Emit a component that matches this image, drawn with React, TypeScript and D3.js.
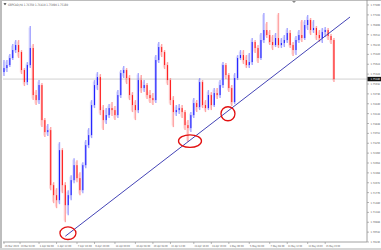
import React from "react";
import * as d3 from "d3";

const W = 381;
const H = 250;

const symbolTitle = "GBPCAD,H4";
const firstOpen = 1.7539;
const closes = [
  1.7551, 1.756, 1.7581, 1.7605, 1.762, 1.7599, 1.7545, 1.7509, 1.756, 1.7611,
  1.747, 1.7455, 1.75, 1.7395, 1.7359, 1.7365, 1.72, 1.717, 1.7155, 1.7305,
  1.72, 1.714, 1.717, 1.7215, 1.726, 1.7221, 1.7185, 1.726, 1.732, 1.735,
  1.744, 1.75, 1.7524, 1.7425, 1.7395, 1.741, 1.7431, 1.7425, 1.741, 1.747,
  1.7536, 1.7545, 1.7521, 1.747, 1.744, 1.7425, 1.7515, 1.7491, 1.75, 1.747,
  1.7461, 1.7455, 1.7575, 1.7614, 1.7599, 1.756, 1.7515, 1.7455, 1.7419, 1.7425,
  1.7431, 1.7419, 1.738, 1.7371, 1.741, 1.7446, 1.7434, 1.7509, 1.744, 1.7431,
  1.747, 1.744, 1.7476, 1.747, 1.75, 1.756, 1.753, 1.7491, 1.7449, 1.7521,
  1.7581, 1.759, 1.7575, 1.756, 1.7569, 1.7629, 1.7611, 1.7581, 1.7635, 1.7665,
  1.765, 1.7629, 1.762, 1.7641, 1.762, 1.7626, 1.7635, 1.7656, 1.762, 1.7605,
  1.7635, 1.765, 1.7641, 1.768, 1.7695, 1.7665, 1.7671, 1.765, 1.7641, 1.7659,
  1.7665, 1.7647, 1.7635, 1.7518,
];
const highs = [
  1.7575, 1.7575, 1.7593, 1.7623, 1.7635, 1.7635, 1.7605, 1.7551, 1.7569, 1.7677,
  1.7623, 1.7485, 1.7515, 1.7506, 1.7401, 1.7383, 1.7374, 1.7209, 1.7191, 1.7329,
  1.7311, 1.7209, 1.7185, 1.723, 1.7281, 1.7275, 1.7239, 1.7269, 1.7335, 1.7371,
  1.7455, 1.7515, 1.7539, 1.7533, 1.744, 1.7431, 1.7443, 1.7449, 1.7437, 1.7485,
  1.7545, 1.7557, 1.7551, 1.753, 1.7479, 1.7455, 1.7536, 1.753, 1.7515, 1.7506,
  1.7485, 1.7476, 1.759, 1.7629, 1.7623, 1.7605, 1.7569, 1.7521, 1.7467, 1.744,
  1.7443, 1.744, 1.7425, 1.7395, 1.7419, 1.7461, 1.7455, 1.7521, 1.7515, 1.7455,
  1.7485, 1.7479, 1.7491, 1.7491, 1.7515, 1.7569, 1.7566, 1.7536, 1.75, 1.7536,
  1.759, 1.7605, 1.7605, 1.759, 1.7596, 1.7641, 1.7635, 1.762, 1.7656, 1.7716,
  1.7689, 1.7665, 1.765, 1.7656, 1.7716, 1.7641, 1.765, 1.7671, 1.7665, 1.7629,
  1.7647, 1.7665, 1.7695, 1.7695, 1.771, 1.7701, 1.7695, 1.7677, 1.7665, 1.7671,
  1.7674, 1.7671, 1.7653, 1.7641,
];
const lows = [
  1.7527, 1.7539, 1.7554, 1.7575, 1.7596, 1.7581, 1.7533, 1.7497, 1.75, 1.7551,
  1.7455, 1.744, 1.7443, 1.7374, 1.7344, 1.7347, 1.7185, 1.7146, 1.7131, 1.7143,
  1.7176, 1.7089, 1.711, 1.7155, 1.7206, 1.7209, 1.717, 1.7176, 1.7251, 1.7311,
  1.7341, 1.7431, 1.7485, 1.741, 1.7365, 1.7383, 1.7401, 1.7407, 1.7395, 1.7401,
  1.7461, 1.7521, 1.7503, 1.7455, 1.7419, 1.7395, 1.7416, 1.7476, 1.7479, 1.7458,
  1.7446, 1.744, 1.7446, 1.7566, 1.7584, 1.7548, 1.75, 1.744, 1.7374, 1.7407,
  1.7413, 1.7401, 1.7365, 1.7329, 1.7359, 1.7401, 1.7419, 1.7425, 1.7431, 1.7419,
  1.7425, 1.7425, 1.7434, 1.7458, 1.7461, 1.7491, 1.7518, 1.7479, 1.7437, 1.7443,
  1.7515, 1.7575, 1.7563, 1.7551, 1.7551, 1.756, 1.7596, 1.7566, 1.7575, 1.7626,
  1.7641, 1.762, 1.7605, 1.7614, 1.7611, 1.7611, 1.7614, 1.7626, 1.7611, 1.7587,
  1.759, 1.7626, 1.7629, 1.7635, 1.7665, 1.765, 1.7656, 1.7635, 1.7629, 1.7626,
  1.7644, 1.7635, 1.7623, 1.7509,
];

const priceTicks = [
  1.774, 1.77104, 1.76808, 1.76512, 1.76216, 1.7592, 1.75624, 1.75328, 1.75032,
  1.74736, 1.7444, 1.74144, 1.73848, 1.73552, 1.73256, 1.7296, 1.72664, 1.72368,
  1.72072, 1.71776, 1.7148, 1.71184, 1.70888, 1.70592, 1.70296,
];

const timeLabels = [
  "26 Mar 2020", "30 Mar 04:00", "1 Apr 08:00", "3 Apr 12:00", "7 Apr 16:00",
  "9 Apr 20:00", "14 Apr 00:00", "16 Apr 04:00", "20 Apr 08:00", "22 Apr 12:00",
  "24 Apr 16:00", "28 Apr 20:00", "1 May 00:00", "5 May 04:00", "7 May 08:00",
  "11 May 12:00", "13 May 16:00", "15 May 20:00",
];
const timeLabelIdx = [0, 5.5, 12, 18, 25, 31, 38, 45, 51, 57, 65, 71, 77, 84, 91, 97, 104, 110];

const trendIdx = [21, 118.5];
const trendPrice = [1.7047, 1.7704];

const markerIdx = [21.9, 63.7, 76.7];
const markerPrice = [1.7056, 1.7332, 1.7414];

export default function App() {
  const plotL = 3;
  const plotR = 367;
  const plotT = 1;
  const plotB = 242;

  const x = d3.scaleLinear().domain([0, 125]).range([4, 369]);
  const y = d3
    .scaleLinear()
    .domain([priceTicks[priceTicks.length - 1], priceTicks[0]])
    .range([242, 5]);

  const bars = closes.map((c, i) => ({
    o: i === 0 ? firstOpen : closes[i - 1],
    c,
    h: highs[i],
    l: lows[i],
  }));
  const last = bars[bars.length - 1];
  const fmt = d3.format(".5f");

  const markerR = [
    [8, 6.3],
    [11.5, 6.3],
    [7, 7],
  ];

  const trendLine = d3
    .line<number>()
    .x((_, k) => x(trendIdx[k]))
    .y((p) => y(p));

  const textColor = "#5a5a5a";
  const fontFamily = "'DejaVu Sans', sans-serif";

  return (
    <svg
      width={W}
      height={H}
      style={{ position: "fixed", left: 0, top: 0, background: "#fff" }}
      fontFamily={fontFamily}
    >
      <rect x={0} y={0} width={W} height={H} fill="#fff" />
      <rect x={0} y={0} width={2} height={H} fill="#bdbdbd" />
      <rect x={0} y={0} width={W} height={1} fill="#bdbdbd" />
      <rect x={0} y={248} width={W} height={2} fill="#d6d6d6" />
      <path d="M292,1 L296,1 L294,3 Z" fill="#888" />

      <defs>
        <clipPath id="plotclip">
          <rect x={plotL} y={plotT} width={plotR - plotL} height={plotB - plotT} />
        </clipPath>
      </defs>
      <g clipPath="url(#plotclip)">
        <line
          x1={plotL}
          x2={plotR}
          y1={y(last.c)}
          y2={y(last.c)}
          stroke="#c4c4c4"
          strokeWidth={0.8}
        />
        {bars.map((b, i) => {
          const bull = b.c > b.o;
          const col = bull ? "#0000ff" : "#ff0000";
          const xi = x(i);
          const top = y(Math.max(b.o, b.c));
          const bot = y(Math.min(b.o, b.c));
          return (
            <g key={i}>
              <line
                x1={xi}
                x2={xi}
                y1={y(b.h)}
                y2={y(b.l)}
                stroke={col}
                strokeOpacity={0.35}
                strokeWidth={1.4}
              />
              <line
                x1={xi - 1.2}
                x2={xi - 1.2}
                y1={y(b.h) + 1.5}
                y2={y(b.l) - 1.5}
                stroke={col}
                strokeOpacity={0.15}
                strokeWidth={1}
              />
              <rect
                x={xi - 0.55}
                y={top}
                width={1.1}
                height={Math.max(0.8, bot - top)}
                fill={col}
                fillOpacity={0.8}
              />
            </g>
          );
        })}
        <path
          d={trendLine(trendPrice) || ""}
          stroke="#2f2fae"
          strokeWidth={0.9}
          fill="none"
        />
        {markerIdx.map((mi, k) => (
          <ellipse
            key={k}
            cx={x(mi)}
            cy={y(markerPrice[k])}
            rx={markerR[k][0]}
            ry={markerR[k][1]}
            fill="none"
            stroke="#e21010"
            strokeWidth={1.3}
          />
        ))}
      </g>

      <path d="M3.5,3.2 L6.5,3.2 L5,5.2 Z" fill="#333" />
      <text x={8} y={5.6} fontSize={3.2} fill={textColor} textLength={60} lengthAdjust="spacingAndGlyphs">
        {`${symbolTitle}  ${fmt(last.o)} ${fmt(last.h)} ${fmt(last.l)} ${fmt(last.c)}`}
      </text>

      <line x1={plotR} x2={plotR} y1={0} y2={plotB} stroke="#8a8a8a" strokeWidth={0.8} />
      <line x1={plotL} x2={plotR} y1={plotB} y2={plotB} stroke="#8a8a8a" strokeWidth={0.8} />

      {priceTicks.map((p, k) => (
        <g key={k}>
          <line x1={plotR} x2={plotR + 2} y1={y(p)} y2={y(p)} stroke="#8a8a8a" strokeWidth={0.6} />
          <text
            x={370.5}
            y={y(p) + 1}
            fontSize={2.7}
            fill={textColor}
            textLength={9.6}
            lengthAdjust="spacingAndGlyphs"
          >
            {fmt(p)}
          </text>
        </g>
      ))}
      <rect x={plotR + 0.5} y={y(last.c) - 2.2} width={W - plotR - 0.5} height={4.4} fill="#111" />
      <text
        x={370.5}
        y={y(last.c) + 1}
        fontSize={2.7}
        fill="#fff"
        textLength={9.6}
        lengthAdjust="spacingAndGlyphs"
      >
        {fmt(last.c)}
      </text>

      {timeLabelIdx.map((ti, k) => (
        <g key={k}>
          <line x1={x(ti)} x2={x(ti)} y1={plotB} y2={plotB + 2} stroke="#8a8a8a" strokeWidth={0.6} />
          <text
            x={x(ti) + 0.8}
            y={246.6}
            fontSize={2.6}
            fill={textColor}
            textLength={14}
            lengthAdjust="spacingAndGlyphs"
          >
            {timeLabels[k]}
          </text>
        </g>
      ))}
    </svg>
  );
}
